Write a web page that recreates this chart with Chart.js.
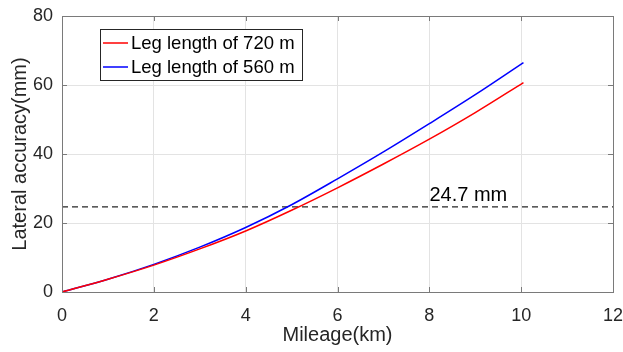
<!DOCTYPE html>
<html><head><meta charset="utf-8">
<script src="https://cdn.jsdelivr.net/npm/chart.js@4/dist/chart.umd.min.js"></script>
<style>html,body{margin:0;padding:0;background:#fff}#wrap{width:623px;height:352px;position:relative}</style>
</head><body><div id="wrap"><canvas id="c"></canvas></div>
<script>
const mileage = [0, 1, 2, 3, 4, 5, 6, 7, 8, 9, 10.05];
const leg720 = [0, 3.7, 7.8, 12.5, 17.7, 23.7, 30.2, 37.1, 44.3, 52.0, 60.7];
const leg560 = [0, 3.7, 8.0, 13.0, 18.7, 25.3, 32.8, 40.6, 48.8, 57.2, 66.5];
const thresholdX = [0, 12];
const thresholdY = [24.7, 24.7];
const thresholdLabel = "24.7 mm";
const seriesNames = ["Leg length of 720 m", "Leg length of 560 m"];
const xTicks = [0, 2, 4, 6, 8, 10, 12];
const yTicks = [0, 20, 40, 60, 80];

const FONT = "'Liberation Sans', Arial, Helvetica, sans-serif";
const AXIS = '#7a7a7a';
const TXT = '#262626';

const pts = (xs, ys) => xs.map((x, i) => ({x, y: ys[i]}));

const boxTicks = {
  id: 'boxTicks',
  afterDatasetsDraw(chart) {
    const {ctx, chartArea: a, scales: {x, y}} = chart;
    ctx.save();
    ctx.strokeStyle = AXIS; ctx.lineWidth = 1;
    ctx.strokeRect(Math.round(a.left) + 0.5, Math.round(a.top) + 0.5, Math.round(a.right - a.left), Math.round(a.bottom - a.top));
    const L = 5;
    ctx.beginPath();
    xTicks.forEach(v => {
      const px = Math.round(x.getPixelForValue(v)) + 0.5;
      ctx.moveTo(px, a.bottom); ctx.lineTo(px, a.bottom - L);
      ctx.moveTo(px, a.top); ctx.lineTo(px, a.top + L);
    });
    yTicks.forEach(v => {
      const py = Math.round(y.getPixelForValue(v)) + 0.5;
      ctx.moveTo(a.left, py); ctx.lineTo(a.left + L, py);
      ctx.moveTo(a.right, py); ctx.lineTo(a.right - L, py);
    });
    ctx.stroke();
    // threshold label
    ctx.fillStyle = '#000';
    ctx.font = '20px ' + FONT;
    ctx.textAlign = 'center'; ctx.textBaseline = 'alphabetic';
    ctx.fillText(thresholdLabel, x.getPixelForValue(8.85), y.getPixelForValue(24.7) - 6);
    // legend
    const lx = a.left + 38, ly = a.top + 13, lw = 202, lh = 51;
    ctx.fillStyle = '#fff';
    ctx.fillRect(lx, ly, lw, lh);
    ctx.strokeStyle = '#262626'; ctx.lineWidth = 1;
    ctx.strokeRect(lx + 0.5, ly + 0.5, lw, lh);
    ctx.font = '18.5px ' + FONT;
    ctx.textAlign = 'left'; ctx.textBaseline = 'middle';
    chart.data.datasets.slice(0, 2).forEach((ds, i) => {
      const cy = ly + 14 + i * 24;
      ctx.strokeStyle = ds.borderColor; ctx.lineWidth = 1.5;
      ctx.beginPath(); ctx.moveTo(lx + 3, cy); ctx.lineTo(lx + 28, cy); ctx.stroke();
      ctx.fillStyle = '#000';
      ctx.fillText(ds.label, lx + 31, cy + 1);
    });
    ctx.restore();
  }
};

new Chart(document.getElementById('c'), {
  type: 'line',
  data: {
    datasets: [
      {label: seriesNames[0], data: pts(mileage, leg720), borderColor: '#ff0000', borderWidth: 1.5, pointRadius: 0, cubicInterpolationMode: 'monotone', fill: false},
      {label: seriesNames[1], data: pts(mileage, leg560), borderColor: '#0000ff', borderWidth: 1.5, pointRadius: 0, cubicInterpolationMode: 'monotone', fill: false},
      {label: 'threshold', data: pts(thresholdX, thresholdY), borderColor: '#262626', borderWidth: 1.3, borderDash: [6, 4], pointRadius: 0, fill: false}
    ]
  },
  plugins: [boxTicks],
  options: {
    responsive: true, maintainAspectRatio: false, animation: false,
    layout: {padding: {top: 16, right: 10, left: 0, bottom: 0}},
    plugins: {legend: {display: false}, tooltip: {enabled: false}},
    scales: {
      x: {
        type: 'linear', min: 0, max: 12,
        afterBuildTicks: s => { s.ticks = xTicks.map(v => ({value: v})); },
        afterFit: s => { s.height = 60; s.paddingLeft = 0; s.paddingRight = 0; },
        grid: {color: '#e3e3e3', drawTicks: false},
        border: {display: false},
        ticks: {color: TXT, font: {size: 18, family: FONT}, padding: 13, maxRotation: 0},
        title: {display: true, text: 'Mileage(km)', color: TXT, font: {size: 20, family: FONT}, padding: {top: 0, bottom: 5}}
      },
      y: {
        type: 'linear', min: 0, max: 80,
        afterBuildTicks: s => { s.ticks = yTicks.map(v => ({value: v})); },
        afterFit: s => { s.width = 62; s.paddingTop = 0; s.paddingBottom = 0; },
        grid: {color: '#e3e3e3', drawTicks: false},
        border: {display: false},
        ticks: {color: TXT, font: {size: 18, family: FONT}, padding: 9},
        title: {display: true, text: 'Lateral accuracy(mm)', color: TXT, font: {size: 20, family: FONT}, padding: {top: 8, bottom: 0}}
      }
    }
  }
});
</script></body></html>
